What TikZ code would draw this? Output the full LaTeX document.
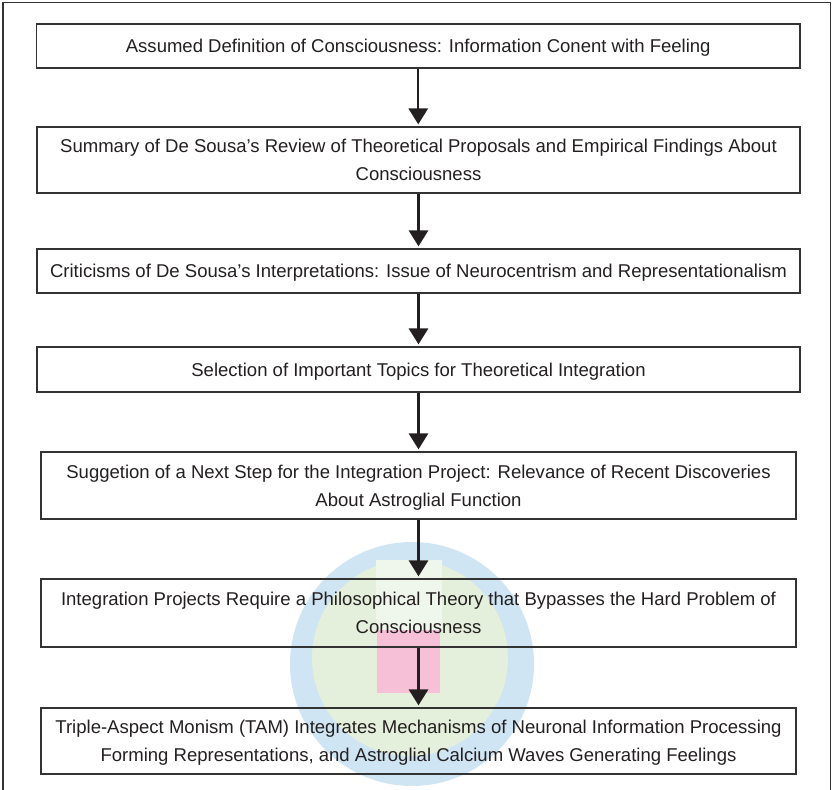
\documentclass[tikz,border=0pt]{standalone}
\usepackage{fontspec}
\setmainfont{Liberation Sans}
\usetikzlibrary{arrows.meta}
\definecolor{txt}{HTML}{231F20}
\definecolor{edge}{HTML}{333333}
\definecolor{wmblue}{HTML}{CFE5F3}
\definecolor{wmgreen}{HTML}{E4F0DB}
\definecolor{wmpale}{HTML}{EFF6EB}
\definecolor{wmpink}{HTML}{F6C1D6}
\tikzset{
  stepbox/.style={draw=edge, line width=1pt, rectangle, inner sep=0pt,
    text=txt, align=center, text depth=0pt, font=\fontsize{13.9}{21.3}\selectfont},
  flow/.style={draw=txt, line width=1.7pt, shorten >=1.5pt,
    -{Triangle[width=14.5pt,length=12pt]}},
}
\begin{document}
\begin{tikzpicture}[x=0.75pt,y=-0.75pt]
\useasboundingbox (0,0) rectangle (833,790);
% background watermark
\fill[wmblue] (412,664) circle [radius=122];
\fill[wmgreen] (410,658) circle [radius=98];
\fill[wmpale] (376,560) rectangle (442,630);
\fill[wmpink] (377,630) rectangle (440,693);
% frame
\draw[edge, line width=1pt] (3,790) -- (3,2.5) -- (830.5,2.5) -- (830.5,790);
% boxes
\node[stepbox, minimum width=572.6pt, minimum height=33pt] (b1) at (418.25,46)
  {Assumed Definition of Consciousness: Information Conent with Feeling};
\node[stepbox, minimum width=572.3pt, minimum height=49.5pt] (b2) at (418.5,160)
  {Summary of De Sousa’s Review of Theoretical Proposals and Empirical Findings About\\Consciousness};
\node[stepbox, minimum width=572.3pt, minimum height=33pt] (b3) at (418.5,271)
  {Criticisms of De Sousa’s Interpretations: Issue of Neurocentrism and Representationalism};
\node[stepbox, minimum width=572.3pt, minimum height=33.75pt] (b4) at (418.5,369.5)
  {Selection of Important Topics for Theoretical Integration};
\node[stepbox, minimum width=566.3pt, minimum height=50.25pt] (b5) at (418.5,485.5)
  {Suggetion of a Next Step for the Integration Project: Relevance of Recent Discoveries\\About Astroglial Function};
\node[stepbox, minimum width=566.3pt, minimum height=51pt] (b6) at (418.5,613)
  {Integration Projects Require a Philosophical Theory that Bypasses the Hard Problem of\\Consciousness};
\node[stepbox, minimum width=566.3pt, minimum height=49.5pt] (b7) at (418.5,741)
  {Triple-Aspect Monism (TAM) Integrates Mechanisms of Neuronal Information Processing\\Forming Representations, and Astroglial Calcium Waves Generating Feelings};
% arrows
\draw[flow] (b1.south) -- (b1.south |- b2.north);
\draw[flow] (b2.south) -- (b2.south |- b3.north);
\draw[flow] (b3.south) -- (b3.south |- b4.north);
\draw[flow] (b4.south) -- (b4.south |- b5.north);
\draw[flow] (b5.south) -- (b5.south |- b6.north);
\draw[flow] (b6.south) -- (b6.south |- b7.north);
\end{tikzpicture}
\end{document}
